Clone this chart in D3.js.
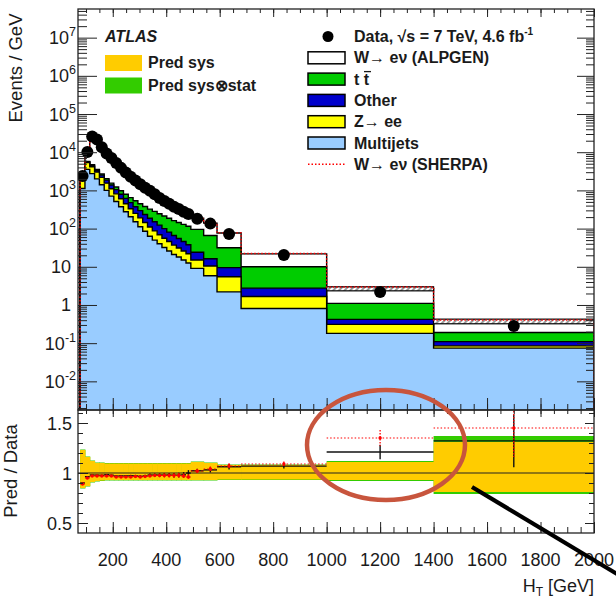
<!DOCTYPE html>
<html>
<head>
<meta charset="utf-8">
<script src="https://cdn.jsdelivr.net/npm/d3@7/dist/d3.min.js"></script>
<style>
  body { margin: 0; background: #fff; }
  text { font-family: "Liberation Sans", Arial, Helvetica, sans-serif; fill: #1a1a1a; }
</style>
</head>
<body>
<div id="chart-area"></div>
<script>
// ---- values (Events / GeV) ----
const binEdges = [78, 96, 114, 132, 150, 168, 186, 204, 222, 240, 258, 276, 294, 312, 330, 348, 366, 384, 402, 420, 438, 456, 474, 492, 540, 590, 680, 1000, 1400, 2000]

const dataVals = [2400, 10200, 25700, 21400, 13500, 9300, 7100, 5250, 3890, 2950, 2290, 1820, 1450, 1175, 977, 794, 631, 525, 447, 372, 324, 275, 240, 182, 135, 72, 20.4, 2.19, 0.28]
const dataErr = [0.01, 0.005, 0.004, 0.004, 0.005, 0.005, 0.006, 0.007, 0.008, 0.009, 0.01, 0.011, 0.012, 0.013, 0.015, 0.016, 0.018, 0.02, 0.021, 0.023, 0.025, 0.027, 0.029, 0.02, 0.025, 0.025, 0.022, 0.06, 0.2]

const multijet = [1120, 3550, 2750, 2000, 1410, 1000, 710, 513, 372, 275, 204, 151, 112, 85, 63, 50, 40, 32, 26, 21, 18, 15, 12.6, 9.1, 5.8, 2.2, 0.81, 0.18, 0.074]
const zee = [700, 1820, 1420, 1020, 780, 550, 390, 300, 231, 172, 127, 100, 79, 60, 47, 37, 29, 24, 20, 16, 13, 11, 9.3, 6.0, 4.7, 3.3, 0.85, 0.13, 0.011]
const other = [40, 250, 300, 290, 320, 310, 280, 234, 191, 170, 148, 121, 104, 89, 76, 64, 54, 44, 35, 29, 24, 20, 16, 8.9, 5.7, 4.0, 1.1, 0.11, 0.025]
const ttbar = [45, 130, 210, 240, 180, 180, 170, 183, 183, 177, 167, 165, 152, 146, 138, 131, 122, 114, 105, 96, 90, 83, 77, 71.5, 50, 22, 7.25, 0.68, 0.08]
const wjets = [255, 4070, 20500, 17400, 10500, 7100, 5390, 3860, 2800, 2070, 1580, 1230, 955, 760, 633, 496, 373, 300, 252, 202, 172, 141, 125, 90.5, 73, 45, 11.8, 1.55, 0.18]
const mcErr = [0, 0, 0, 0, 0, 0, 0, 0, 0, 0, 0, 0, 0, 0, 0, 0, 0, 0, 0, 0, 0, 0, 0, 0, 0, 0, 0, 0.13, 0.15]

// SHERPA / data
const sherpaRatio = [0.89, 0.95, 0.97, 0.97, 0.97, 0.97, 0.97, 0.96, 0.96, 0.96, 0.96, 0.965, 0.96, 0.965, 0.97, 0.975, 0.975, 0.975, 0.975, 0.975, 0.975, 0.97, 0.96, 1.02, 1.04, 1.07, 1.09, 1.35, 1.45]

// prediction uncertainty bands (relative)
const sysUp = [0.23, 0.16, 0.12, 0.10, 0.10, 0.095, 0.095, 0.095, 0.095, 0.095, 0.095, 0.095, 0.095, 0.095, 0.095, 0.095, 0.095, 0.095, 0.095, 0.095, 0.095, 0.095, 0.095, 0.11, 0.10, 0.08, 0.08, 0.11, 0.31]
const sysDown = [0.15, 0.13, 0.09, 0.08, 0.075, 0.07, 0.07, 0.07, 0.07, 0.07, 0.07, 0.07, 0.07, 0.07, 0.07, 0.07, 0.07, 0.07, 0.07, 0.07, 0.07, 0.07, 0.07, 0.07, 0.07, 0.065, 0.065, 0.07, 0.19]
const totUp = [0.235, 0.165, 0.125, 0.105, 0.105, 0.1, 0.1, 0.1, 0.1, 0.1, 0.1, 0.1, 0.1, 0.1, 0.1, 0.1, 0.1, 0.1, 0.1, 0.1, 0.1, 0.1, 0.1, 0.115, 0.105, 0.085, 0.085, 0.12, 0.37]
const totDown = [0.155, 0.135, 0.095, 0.085, 0.08, 0.075, 0.075, 0.075, 0.075, 0.075, 0.075, 0.075, 0.075, 0.075, 0.075, 0.075, 0.075, 0.075, 0.075, 0.075, 0.075, 0.075, 0.075, 0.075, 0.075, 0.07, 0.07, 0.08, 0.21]

const xTickLabels = [200, 400, 600, 800, 1000, 1200, 1400, 1600, 1800, 2000]
const yDecades = [-2, -1, 0, 1, 2, 3, 4, 5, 6, 7]
const ratioTickLabels = [0.5, 1, 1.5]

const keys = ["multijet", "zee", "other", "ttbar", "wjets"]
const fills = { multijet: "#99ccff", zee: "#ffff00", other: "#0000cc", ttbar: "#00cc00", wjets: "#ffffff" }

// ---- layout ----
const WIDTH = 616, HEIGHT = 603
const FRAME = { LEFT: 78, RIGHT: 594, TOP: 9, MID: 410, BOTTOM: 533 }

const svg = d3.select("#chart-area").append("svg")
  .attr("width", WIDTH)
  .attr("height", HEIGHT)

const x = d3.scaleLinear().domain([70, 2000]).range([FRAME.LEFT, FRAME.RIGHT])
const yUp = d3.scaleLog().domain([Math.pow(10, -2.75), Math.pow(10, 7.75)]).range([FRAME.MID, FRAME.TOP])
const yLo = d3.scaleLinear().domain([0.4, 1.63]).range([FRAME.BOTTOM, FRAME.MID])

const defs = svg.append("defs")
defs.append("clipPath").attr("id", "clip-up").append("rect")
  .attr("x", FRAME.LEFT).attr("y", FRAME.TOP)
  .attr("width", FRAME.RIGHT - FRAME.LEFT).attr("height", FRAME.MID - FRAME.TOP)
defs.append("clipPath").attr("id", "clip-lo").append("rect")
  .attr("x", FRAME.LEFT).attr("y", FRAME.MID)
  .attr("width", FRAME.RIGHT - FRAME.LEFT).attr("height", FRAME.BOTTOM - FRAME.MID)
const hatch = defs.append("pattern").attr("id", "hatch")
  .attr("patternUnits", "userSpaceOnUse").attr("width", 4).attr("height", 4)
  .attr("patternTransform", "rotate(45)")
hatch.append("rect").attr("width", 4).attr("height", 4).attr("fill", "#fff")
hatch.append("line").attr("x1", 1).attr("y1", 0).attr("x2", 1).attr("y2", 4)
  .attr("stroke", "#777").attr("stroke-width", 1.5)

// table of bins
const bins = binEdges.slice(0, -1).map((lo, i) => ({
  lo, hi: binEdges[i + 1], mid: (lo + binEdges[i + 1]) / 2,
  multijet: multijet[i], zee: zee[i], other: other[i], ttbar: ttbar[i], wjets: wjets[i],
  data: dataVals[i], err: dataErr[i], mcErr: mcErr[i], sherpa: sherpaRatio[i],
  sysUp: sysUp[i], sysDown: sysDown[i], totUp: totUp[i], totDown: totDown[i]
}))
bins.forEach(b => {
  b.total = keys.reduce((s, k) => s + b[k], 0)
  b.ratio = b.total / b.data
})

const floorVal = yUp.domain()[0]

/******************************** upper panel ********************************/
const upper = svg.append("g").attr("clip-path", "url(#clip-up)")

const areaUp = d3.area()
  .x(d => x(d[0]))
  .y0(FRAME.MID + 3)
  .y1(d => yUp(d[1]))

const layers = d3.stack().keys(keys)(bins)

upper.selectAll(".layer")
  .data(layers.slice().reverse())
  .join("path")
  .attr("class", "layer")
  .attr("d", s => areaUp(s.flatMap((d, i) => [[bins[i].lo, d[1]], [bins[i].hi, d[1]]])))
  .attr("fill", s => fills[s.key])
  .attr("stroke", "#000")
  .attr("stroke-width", 1.4)
  .attr("stroke-linejoin", "miter")

// MC uncertainty hatch
upper.selectAll(".mcerr")
  .data(bins.filter(b => b.mcErr > 0))
  .join("rect")
  .attr("class", "mcerr")
  .attr("x", b => x(b.lo))
  .attr("width", b => x(b.hi) - x(b.lo))
  .attr("y", b => yUp(b.total * (1 + b.mcErr)))
  .attr("height", b => yUp(b.total / (1 + b.mcErr)) - yUp(b.total * (1 + b.mcErr)))
  .attr("fill", "url(#hatch)")
  .attr("stroke", "#000")
  .attr("stroke-width", 1.2)

// SHERPA prediction
const sherpaPts = [[bins[0].lo, floorVal]]
  .concat(bins.flatMap(b => [[b.lo, b.data * b.sherpa], [b.hi, b.data * b.sherpa]]))
  .concat([[bins[bins.length - 1].hi, floorVal]])
upper.append("path")
  .attr("d", d3.line().x(d => x(d[0])).y(d => yUp(d[1]))(sherpaPts))
  .attr("fill", "none")
  .attr("stroke", "#ff0000")
  .attr("stroke-width", 1.4)
  .attr("stroke-dasharray", "1.5,2")

// data
upper.selectAll(".derr")
  .data(bins)
  .join("line")
  .attr("x1", b => x(b.mid)).attr("x2", b => x(b.mid))
  .attr("y1", b => yUp(b.data * (1 + b.err))).attr("y2", b => yUp(b.data * (1 - b.err)))
  .attr("stroke", "#000").attr("stroke-width", 1.5)
upper.selectAll(".dot")
  .data(bins)
  .join("circle")
  .attr("cx", b => x(b.mid))
  .attr("cy", b => yUp(b.data))
  .attr("r", 6)
  .attr("fill", "#000")

/******************************** ratio panel ********************************/
const lower = svg.append("g").attr("clip-path", "url(#clip-lo)")

lower.selectAll(".tot")
  .data(bins)
  .join("rect")
  .attr("x", b => x(b.lo)).attr("width", b => x(b.hi) - x(b.lo) + 0.5)
  .attr("y", b => yLo(1 + b.totUp)).attr("height", b => yLo(1 - b.totDown) - yLo(1 + b.totUp))
  .attr("fill", "#33cc00")
lower.selectAll(".sys")
  .data(bins)
  .join("rect")
  .attr("x", b => x(b.lo)).attr("width", b => x(b.hi) - x(b.lo) + 0.5)
  .attr("y", b => yLo(1 + b.sysUp)).attr("height", b => yLo(1 - b.sysDown) - yLo(1 + b.sysUp))
  .attr("fill", "#ffcc00")

lower.append("line")
  .attr("x1", FRAME.LEFT).attr("x2", FRAME.RIGHT)
  .attr("y1", yLo(1)).attr("y2", yLo(1))
  .attr("stroke", "#222").attr("stroke-width", 1)

// ALPGEN / data
lower.selectAll(".rA")
  .data(bins)
  .join("line")
  .attr("x1", b => x(b.lo)).attr("x2", b => x(b.hi))
  .attr("y1", b => yLo(b.ratio)).attr("y2", b => yLo(b.ratio))
  .attr("stroke", "#111").attr("stroke-width", 1.4)
lower.selectAll(".rAe")
  .data(bins)
  .join("line")
  .attr("x1", b => x(b.mid)).attr("x2", b => x(b.mid))
  .attr("y1", b => yLo(b.ratio * (1 + b.err))).attr("y2", b => yLo(b.ratio * (1 - b.err)))
  .attr("stroke", "#111").attr("stroke-width", 1.4)

// SHERPA / data
lower.selectAll(".rS")
  .data(bins)
  .join("line")
  .attr("x1", b => x(b.lo)).attr("x2", b => x(b.hi))
  .attr("y1", b => yLo(b.sherpa)).attr("y2", b => yLo(b.sherpa))
  .attr("stroke", "#ff0000").attr("stroke-width", 1.2)
  .attr("stroke-dasharray", "1.5,2")
lower.selectAll(".rSe")
  .data(bins)
  .join("line")
  .attr("x1", b => x(b.mid)).attr("x2", b => x(b.mid))
  .attr("y1", b => yLo(b.sherpa * (1 + b.err))).attr("y2", b => yLo(b.sherpa * (1 - b.err)))
  .attr("stroke", "#ff0000").attr("stroke-width", 1.3)
  .attr("stroke-dasharray", "1.5,1.5")
lower.selectAll(".rSm")
  .data(bins)
  .join("circle")
  .attr("cx", b => x(b.mid)).attr("cy", b => yLo(b.sherpa))
  .attr("r", 1.7)
  .attr("fill", "#ff0000")

/******************************** axes ********************************/
function ticks(axis, vals, size, transform) {
  svg.append("g")
    .attr("transform", transform)
    .call(axis.tickValues(vals).tickSize(size).tickSizeOuter(0).tickFormat(""))
    .call(g => g.select(".domain").remove())
    .call(g => g.selectAll("line").attr("stroke", "#222").attr("stroke-width", 1))
}
const xMinor = d3.range(100, 2001, 50)
const xMajor = d3.range(200, 2001, 200)
const logMinor = []
for (let d = -3; d <= 7; d++) for (let k = 2; k <= 9; k++) {
  const v = k * Math.pow(10, d)
  if (v > floorVal && v < yUp.domain()[1]) logMinor.push(v)
}
const logMajor = yDecades.map(d => Math.pow(10, d))

ticks(d3.axisBottom(x), xMinor, -6, `translate(0,${FRAME.MID})`)
ticks(d3.axisBottom(x), xMajor, -12, `translate(0,${FRAME.MID})`)
ticks(d3.axisTop(x), xMinor, -4, `translate(0,${FRAME.TOP})`)
ticks(d3.axisTop(x), xMajor, -8, `translate(0,${FRAME.TOP})`)
ticks(d3.axisLeft(yUp), logMinor, -9, `translate(${FRAME.LEFT},0)`)
ticks(d3.axisLeft(yUp), logMajor, -19, `translate(${FRAME.LEFT},0)`)
ticks(d3.axisRight(yUp), logMinor, -8, `translate(${FRAME.RIGHT},0)`)
ticks(d3.axisRight(yUp), logMajor, -17, `translate(${FRAME.RIGHT},0)`)

ticks(d3.axisBottom(x), xMinor, -6, `translate(0,${FRAME.BOTTOM})`)
ticks(d3.axisBottom(x), xMajor, -11, `translate(0,${FRAME.BOTTOM})`)
ticks(d3.axisTop(x), xMinor, -4, `translate(0,${FRAME.MID})`)
ticks(d3.axisTop(x), xMajor, -7, `translate(0,${FRAME.MID})`)
const rMinor = d3.range(0.5, 1.61, 0.1)
ticks(d3.axisLeft(yLo), rMinor, -5, `translate(${FRAME.LEFT},0)`)
ticks(d3.axisLeft(yLo), ratioTickLabels, -10, `translate(${FRAME.LEFT},0)`)
ticks(d3.axisRight(yLo), rMinor, -5, `translate(${FRAME.RIGHT},0)`)
ticks(d3.axisRight(yLo), ratioTickLabels, -9, `translate(${FRAME.RIGHT},0)`)

// frames
svg.append("rect")
  .attr("x", FRAME.LEFT).attr("y", FRAME.TOP)
  .attr("width", FRAME.RIGHT - FRAME.LEFT).attr("height", FRAME.MID - FRAME.TOP)
  .attr("fill", "none").attr("stroke", "#222").attr("stroke-width", 1.3)
svg.append("rect")
  .attr("x", FRAME.LEFT).attr("y", FRAME.MID)
  .attr("width", FRAME.RIGHT - FRAME.LEFT).attr("height", FRAME.BOTTOM - FRAME.MID)
  .attr("fill", "none").attr("stroke", "#222").attr("stroke-width", 1.3)

// tick labels
const yLab = svg.append("g").attr("font-size", 18)
yDecades.forEach(d => {
  const t = yLab.append("text")
    .attr("y", yUp(Math.pow(10, d)) + 6.5)
    .attr("text-anchor", "end")
  if (d === 0 || d === 1) {
    t.attr("x", 71).text(d === 0 ? "1" : "10")
  } else {
    t.attr("x", 76).text("10")
    t.append("tspan").attr("font-size", 12.5).attr("dy", -8).text(d)
  }
})
svg.append("g").attr("font-size", 18)
  .selectAll("text")
  .data(ratioTickLabels)
  .join("text")
  .attr("x", 72)
  .attr("y", d => yLo(d) + 6.5)
  .attr("text-anchor", "end")
  .text(d => d)
svg.append("g").attr("font-size", 18)
  .selectAll("text")
  .data(xTickLabels)
  .join("text")
  .attr("x", d => x(d))
  .attr("y", 566)
  .attr("text-anchor", "middle")
  .text(d => d)

// axis titles
svg.append("text")
  .attr("transform", "rotate(-90)")
  .attr("x", -68).attr("y", 22)
  .attr("text-anchor", "middle")
  .attr("font-size", 18.5)
  .text("Events / GeV")
svg.append("text")
  .attr("transform", "rotate(-90)")
  .attr("x", -471).attr("y", 17)
  .attr("text-anchor", "middle")
  .attr("font-size", 18.5)
  .text("Pred / Data")
const xt = svg.append("text")
  .attr("x", FRAME.RIGHT).attr("y", 592)
  .attr("text-anchor", "end")
  .attr("font-size", 18)
xt.append("tspan").text("H")
xt.append("tspan").attr("font-size", 12).attr("dy", 4).text("T")
xt.append("tspan").attr("dy", -4).text(" [GeV]")

/******************************** legends ********************************/
svg.append("text")
  .attr("x", 105).attr("y", 42)
  .attr("font-size", 16).attr("font-weight", "bold").attr("font-style", "italic")
  .text("ATLAS")

const bandLegend = [
  { label: "Pred sys", color: "#ffcc00" },
  { label: "Pred sys\u2297stat", color: "#33cc00" }
]
const bl = svg.append("g").selectAll("g")
  .data(bandLegend)
  .join("g")
  .attr("transform", (d, i) => `translate(105,${55 + i * 22.5})`)
bl.append("rect").attr("width", 37).attr("height", 16).attr("fill", d => d.color)
bl.append("text").attr("x", 43).attr("y", 13)
  .attr("font-size", 16).attr("font-weight", "bold")
  .text(d => d.label)

const stackLegend = [
  { key: "wjets", label: "W\u2192 e\u03bd (ALPGEN)" },
  { key: "ttbar", label: "t t" },
  { key: "other", label: "Other" },
  { key: "zee", label: "Z\u2192 ee" },
  { key: "multijet", label: "Multijets" }
]
const legY0 = 36.5, legDY = 21.3
svg.append("circle").attr("cx", 328).attr("cy", legY0).attr("r", 5.5).attr("fill", "#000")
const dt = svg.append("text").attr("x", 354).attr("y", legY0 + 5)
  .attr("font-size", 16).attr("font-weight", "bold")
dt.append("tspan").text("Data, \u221as = 7 TeV, 4.6 fb")
dt.append("tspan").attr("font-size", 10).attr("dy", -7).text("-1")

const sl = svg.append("g").selectAll("g")
  .data(stackLegend)
  .join("g")
  .attr("transform", (d, i) => `translate(308,${legY0 + (i + 1) * legDY})`)
sl.append("rect").attr("y", -6).attr("width", 37).attr("height", 12)
  .attr("fill", d => fills[d.key]).attr("stroke", "#000").attr("stroke-width", 1.5)
sl.append("text").attr("x", 46).attr("y", 5.5)
  .attr("font-size", 16).attr("font-weight", "bold")
  .text(d => d.label)
// bar over the second t
svg.append("line")
  .attr("x1", 364).attr("x2", 371)
  .attr("y1", legY0 + 2 * legDY - 7.5).attr("y2", legY0 + 2 * legDY - 7.5)
  .attr("stroke", "#1a1a1a").attr("stroke-width", 1.3)

const shY = legY0 + 6 * legDY
svg.append("line")
  .attr("x1", 308).attr("x2", 345).attr("y1", shY).attr("y2", shY)
  .attr("stroke", "#ff0000").attr("stroke-width", 1.4).attr("stroke-dasharray", "1.5,2")
svg.append("text").attr("x", 354).attr("y", shY + 5.5)
  .attr("font-size", 16).attr("font-weight", "bold")
  .text("W\u2192 e\u03bd (SHERPA)")

/******************************** annotation ********************************/
svg.append("ellipse")
  .attr("cx", 386).attr("cy", 445).attr("rx", 79).attr("ry", 55)
  .attr("fill", "none").attr("stroke", "#c8553d").attr("stroke-width", 4.5)
svg.append("line")
  .attr("x1", 472).attr("y1", 487).attr("x2", 622).attr("y2", 577)
  .attr("stroke", "#000").attr("stroke-width", 4.2)
</script>
</body>
</html>
